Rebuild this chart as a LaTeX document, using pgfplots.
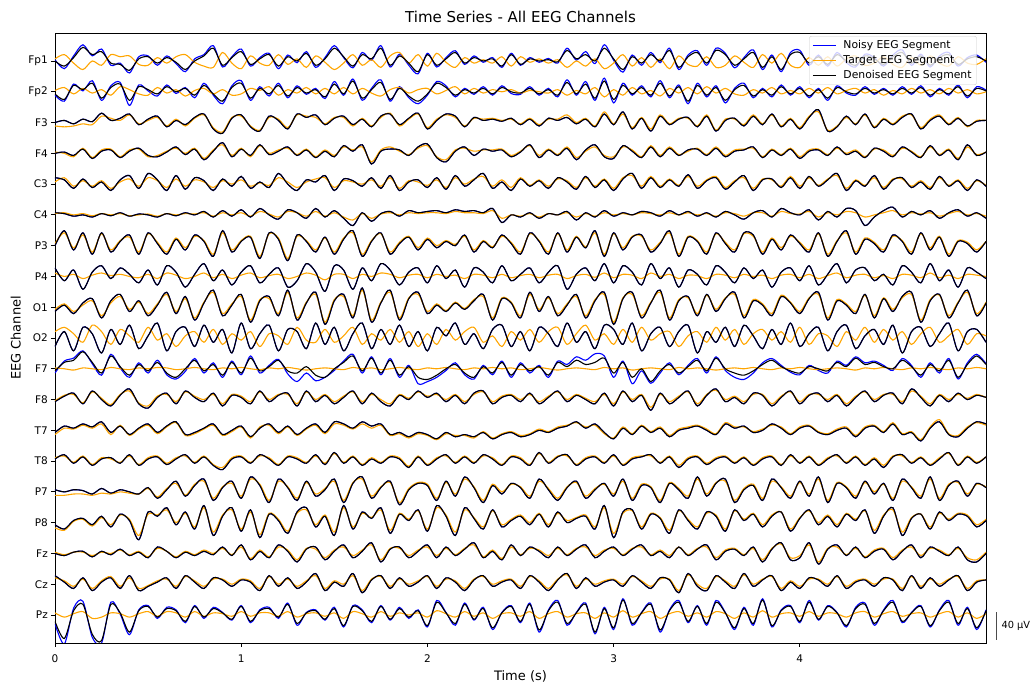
\documentclass[border=0pt]{standalone}
\usepackage{fontspec}
\setmainfont{DejaVu Sans}
\usepackage{pgfplots}
\usepackage{pgfplotstable}
\pgfplotsset{compat=1.18}
\definecolor{nzc}{RGB}{0,0,255}
\definecolor{tgc}{RGB}{255,165,0}
\newcommand\D[2]{\pgfplotstableread[row sep=\\]{y\\#2}#1%
  \pgfplotstablecreatecol[expr={\pgfplotstablerow*0.05}]{t}#1}
% ---- Fp1 ----
\D\dFpa{0\\-12\\8\\32\\15\\22\\-5\\-8\\-22\\5\\
10\\-5\\8\\-3\\-20\\0\\12\\30\\-10\\8\\
22\\-8\\5\\15\\-12\\10\\0\\18\\-10\\5\\
30\\10\\-12\\15\\5\\30\\-10\\12\\-5\\-25\\
15\\-10\\5\\20\\-5\\8\\0\\5\\-12\\15\\
-8\\5\\0\\3\\-2\\25\\5\\15\\0\\30\\
5\\-20\\10\\-5\\15\\0\\25\\-15\\10\\20\\
-5\\25\\15\\-10\\5\\20\\-15\\10\\-20\\15\\
20\\-5\\10\\-8\\15\\0\\-10\\12\\5\\-8\\
10\\20\\-5\\12\\-10\\8\\15\\-8\\5\\10\\
0\\}
\D\gFpa{5\\15\\-5\\-20\\0\\-10\\15\\10\\12\\-8\\
-10\\8\\-5\\10\\15\\-3\\-12\\-15\\20\\-5\\
-18\\12\\-5\\-10\\15\\-8\\5\\-15\\12\\-3\\
-20\\-5\\15\\-10\\3\\-15\\12\\20\\-5\\15\\
-12\\18\\-3\\-15\\8\\-5\\3\\-5\\10\\-12\\
10\\-3\\5\\-5\\3\\-15\\0\\-12\\5\\-18\\
-5\\15\\-12\\8\\-15\\5\\-18\\12\\-8\\-12\\
10\\-15\\-10\\12\\-3\\-15\\15\\-5\\18\\-10\\
-15\\8\\-10\\10\\-12\\5\\12\\-10\\-5\\10\\
-8\\-15\\8\\-10\\12\\-5\\-12\\10\\-5\\-8\\
5\\}
\D\nFpa{3\\-18\\12\\38\\12\\28\\-10\\-5\\-28\\10\\
12\\-10\\12\\-6\\-25\\5\\15\\36\\-14\\10\\
28\\-12\\8\\18\\-18\\14\\-4\\22\\-15\\8\\
36\\8\\-16\\20\\2\\36\\-14\\16\\-10\\-30\\
18\\-14\\8\\24\\-8\\12\\-3\\8\\-15\\18\\
-10\\8\\-3\\6\\-5\\30\\2\\22\\-6\\38\\
2\\-26\\14\\-10\\20\\-4\\30\\-20\\14\\24\\
-10\\30\\18\\-16\\8\\26\\-20\\14\\-25\\20\\
25\\-10\\14\\-12\\20\\-4\\-14\\16\\8\\-12\\
14\\26\\-10\\16\\-14\\12\\20\\-12\\8\\14\\
-3\\}
% ---- Fp2 ----
\D\dFpb{-5\\-18\\15\\5\\20\\-15\\10\\18\\-20\\12\\
5\\-5\\12\\0\\8\\-8\\15\\-5\\-22\\10\\
20\\-15\\8\\-5\\15\\-10\\10\\-3\\5\\-12\\
18\\-5\\25\\-15\\5\\22\\-18\\8\\-10\\-22\\
-5\\20\\10\\-8\\5\\-3\\8\\-5\\10\\0\\
-3\\8\\-5\\5\\-8\\22\\-5\\18\\-15\\25\\
-18\\15\\-5\\10\\-8\\20\\-10\\12\\-22\\15\\
-8\\10\\-20\\5\\15\\-10\\5\\-8\\12\\-5\\
8\\-10\\5\\-15\\10\\0\\-5\\8\\-3\\5\\
-5\\8\\-3\\10\\-8\\5\\-5\\12\\-10\\8\\
2\\}
\D\gFpb{3\\10\\-5\\8\\-3\\5\\-8\\12\\5\\-5\\
-8\\10\\-3\\5\\-10\\3\\8\\-5\\5\\-8\\
-5\\8\\3\\12\\-8\\5\\-3\\10\\-5\\8\\
-5\\10\\-5\\8\\-3\\-10\\5\\10\\-3\\5\\
8\\-5\\3\\12\\-5\\8\\-3\\5\\0\\5\\
-3\\3\\0\\-3\\5\\-8\\3\\-5\\10\\-12\\
5\\-8\\10\\-5\\3\\-10\\8\\-3\\10\\-5\\
12\\-3\\8\\-5\\-8\\5\\-3\\10\\-5\\3\\
-5\\8\\-3\\10\\-5\\3\\8\\-3\\5\\-8\\
3\\-5\\8\\-3\\5\\-5\\8\\-3\\5\\-5\\
0\\}
\D\nFpb{-8\\-22\\18\\2\\26\\-20\\14\\22\\-32\\16\\
2\\-10\\16\\-4\\10\\-14\\20\\-8\\-28\\14\\
26\\-20\\12\\-10\\20\\-14\\14\\-6\\8\\-16\\
24\\-8\\30\\-20\\8\\28\\-22\\12\\-14\\-28\\
-8\\24\\14\\-12\\8\\-6\\12\\-8\\14\\-4\\
-6\\12\\-8\\8\\-12\\28\\-8\\24\\-20\\32\\
-26\\20\\-8\\14\\-12\\26\\-14\\16\\-28\\20\\
-12\\14\\-26\\8\\20\\-14\\8\\-12\\16\\-8\\
12\\-14\\8\\-20\\14\\-3\\-8\\12\\-6\\8\\
-8\\12\\-6\\14\\-12\\8\\-8\\16\\-14\\12\\
4\\}
% ---- F3 ----
\D\dFc{0\\5\\-3\\8\\2\\22\\5\\10\\20\\-5\\
8\\15\\-10\\5\\-5\\12\\20\\-15\\-25\\10\\
18\\-10\\-20\\15\\5\\-15\\20\\12\\18\\-5\\
10\\15\\-5\\8\\-10\\15\\20\\-5\\10\\22\\
-15\\5\\20\\15\\-10\\12\\5\\8\\3\\10\\
-5\\8\\-8\\10\\5\\12\\-3\\8\\-10\\20\\
-5\\25\\-15\\10\\-20\\15\\-5\\8\\12\\-10\\
15\\-20\\5\\10\\-8\\15\\-5\\20\\-10\\8\\
-15\\12\\30\\-20\\-10\\15\\-5\\20\\-12\\8\\
-5\\12\\20\\-15\\5\\15\\-5\\10\\-8\\3\\
5\\}
\D\gFc{-8\\-10\\-8\\-3\\-5\\15\\10\\5\\18\\-3\\
5\\12\\-8\\8\\-8\\10\\18\\-12\\-22\\12\\
15\\-8\\-18\\12\\8\\-12\\18\\15\\12\\-3\\
12\\12\\-8\\10\\-8\\12\\22\\-8\\8\\20\\
-12\\8\\18\\12\\-8\\10\\8\\10\\5\\8\\
-3\\10\\-5\\8\\8\\18\\0\\10\\-8\\25\\
-3\\20\\-12\\12\\-15\\18\\-3\\10\\10\\-8\\
18\\-18\\8\\8\\-5\\18\\-3\\18\\-8\\10\\
-12\\15\\25\\-18\\-8\\12\\-3\\18\\-10\\10\\
-3\\15\\18\\-12\\8\\18\\-3\\12\\-10\\5\\
5\\}
% ---- F4 ----
\D\dFd{0\\3\\-5\\10\\-12\\5\\8\\-10\\5\\12\\
-5\\-8\\3\\15\\-3\\10\\-15\\5\\25\\-8\\
10\\-5\\20\\-3\\5\\15\\-5\\8\\-10\\5\\
-8\\18\\5\\20\\-25\\5\\10\\8\\-5\\15\\
22\\-10\\-20\\5\\15\\-5\\10\\5\\8\\-8\\
3\\20\\-10\\8\\-5\\12\\-15\\8\\20\\-8\\
-12\\18\\5\\-10\\15\\-8\\12\\-5\\8\\10\\
-5\\12\\-8\\5\\8\\15\\-10\\8\\-5\\10\\
-12\\5\\8\\-5\\15\\-3\\5\\-10\\12\\5\\
-8\\15\\3\\-10\\18\\-5\\8\\-15\\20\\-5\\
3\\}
\D\gFd{3\\0\\-8\\12\\-10\\8\\10\\-8\\8\\10\\
-8\\-5\\5\\12\\0\\12\\-12\\8\\20\\-5\\
12\\-8\\18\\0\\8\\12\\-3\\10\\-8\\8\\
-5\\15\\8\\15\\-20\\8\\15\\5\\-3\\12\\
18\\-8\\-15\\8\\12\\5\\8\\8\\10\\-5\\
5\\18\\-5\\10\\-3\\15\\-10\\5\\15\\-5\\
-8\\15\\8\\-8\\18\\-5\\15\\-3\\5\\12\\
-3\\15\\-5\\8\\10\\12\\-8\\10\\-3\\12\\
-8\\8\\10\\-3\\12\\0\\8\\-8\\10\\8\\
-5\\12\\5\\-8\\15\\-3\\10\\-12\\15\\-3\\
3\\}
% ---- C3 ----
\D\dCc{15\\10\\-10\\12\\-8\\5\\-15\\10\\20\\-10\\
25\\10\\-15\\20\\-12\\15\\8\\-15\\12\\-5\\
18\\-10\\5\\-8\\25\\0\\-15\\10\\5\\20\\
-15\\12\\8\\-5\\15\\-10\\20\\-15\\5\\10\\
-8\\15\\-12\\20\\-5\\10\\25\\-10\\5\\-15\\
12\\-5\\8\\-10\\15\\5\\-12\\18\\-8\\10\\
-15\\12\\25\\-10\\15\\-8\\10\\-5\\22\\-10\\
8\\15\\-12\\5\\20\\-15\\10\\12\\-8\\15\\
-10\\18\\-5\\10\\25\\-15\\8\\-5\\20\\-12\\
10\\15\\-8\\5\\-12\\18\\-5\\8\\-15\\10\\
-5\\}
\D\gCc{5\\15\\-5\\8\\-5\\8\\-10\\5\\12\\-5\\
15\\8\\-8\\12\\-5\\10\\5\\-8\\8\\0\\
10\\-5\\3\\-3\\15\\5\\-8\\5\\12\\15\\
-8\\8\\5\\0\\10\\-5\\15\\-10\\8\\5\\
-3\\10\\-8\\15\\0\\12\\18\\-5\\10\\-8\\
15\\-3\\10\\-5\\12\\8\\-8\\15\\-5\\12\\
-10\\15\\20\\-5\\18\\-5\\12\\-3\\18\\-5\\
10\\18\\-8\\8\\15\\-10\\12\\10\\-5\\18\\
-5\\15\\-3\\12\\20\\-10\\10\\-3\\15\\-8\\
12\\12\\-5\\8\\-8\\15\\-3\\10\\-10\\8\\
-3\\}
% ---- C4 ----
\D\dCd{5\\3\\-3\\0\\-5\\3\\-2\\5\\-3\\2\\
0\\-5\\3\\-2\\5\\0\\8\\-5\\10\\-3\\
12\\-5\\15\\0\\-10\\12\\5\\-8\\15\\-5\\
10\\-8\\-25\\5\\-15\\3\\8\\-3\\10\\5\\
8\\10\\5\\12\\8\\10\\5\\15\\-18\\0\\
-5\\5\\-8\\3\\0\\8\\-12\\5\\-5\\10\\
-3\\5\\0\\8\\5\\-3\\10\\0\\8\\-3\\
5\\-5\\8\\0\\-10\\5\\10\\-5\\15\\5\\
0\\12\\-12\\8\\-5\\15\\10\\-25\\-5\\10\\
18\\-5\\8\\0\\10\\-8\\5\\12\\-3\\5\\
-8\\}
\D\gCd{3\\5\\0\\3\\-2\\3\\0\\3\\-2\\0\\
2\\-3\\3\\0\\3\\2\\5\\-3\\5\\0\\
5\\-3\\8\\2\\-5\\8\\5\\-3\\8\\-3\\
5\\-5\\-12\\3\\-8\\2\\5\\0\\5\\3\\
5\\5\\3\\8\\5\\5\\3\\10\\-8\\0\\
-3\\3\\-5\\3\\0\\5\\-5\\3\\-3\\5\\
0\\3\\0\\5\\3\\0\\5\\0\\5\\0\\
3\\-3\\5\\3\\-3\\5\\5\\-3\\8\\3\\
2\\8\\-5\\5\\0\\8\\5\\-5\\0\\5\\
10\\0\\5\\2\\5\\-3\\3\\8\\0\\3\\
-3\\}
% ---- P3 ----
\D\dPc{0\\35\\-10\\30\\-20\\30\\-15\\10\\25\\-20\\
30\\5\\-20\\15\\-10\\25\\10\\-25\\35\\-15\\
10\\20\\-30\\30\\15\\-35\\25\\10\\-15\\20\\
-20\\15\\35\\-25\\10\\30\\-20\\5\\20\\-10\\
15\\-5\\10\\0\\25\\-15\\10\\-5\\25\\5\\
-20\\30\\10\\-20\\30\\-15\\20\\-5\\35\\-25\\
30\\-10\\20\\25\\-15\\5\\35\\-25\\20\\10\\
-20\\30\\5\\-15\\30\\25\\-20\\15\\-10\\25\\
5\\-15\\30\\-25\\10\\35\\-20\\15\\5\\-15\\
25\\10\\-20\\30\\-10\\20\\-25\\10\\5\\-15\\
10\\}
\D\gPc{5\\30\\-5\\25\\-15\\28\\-10\\12\\20\\-15\\
28\\8\\-15\\18\\-5\\22\\12\\-20\\30\\-10\\
12\\22\\-25\\28\\18\\-30\\22\\12\\-10\\18\\
-15\\18\\30\\-20\\12\\28\\-15\\8\\22\\-5\\
18\\0\\12\\3\\22\\-10\\12\\-3\\22\\8\\
-15\\28\\12\\-15\\28\\-10\\22\\-3\\30\\-20\\
28\\-5\\22\\22\\-10\\8\\30\\-20\\22\\12\\
-15\\28\\8\\-10\\28\\22\\-15\\18\\-5\\22\\
8\\-10\\28\\-20\\12\\30\\-15\\18\\8\\-10\\
22\\12\\-15\\28\\-5\\22\\-20\\12\\8\\-10\\
10\\}
% ---- P4 ----
\D\dPd{20\\-10\\15\\-30\\10\\25\\-5\\20\\5\\-15\\
15\\-20\\25\\10\\-25\\5\\30\\-10\\15\\-20\\
10\\25\\-15\\5\\20\\-25\\-10\\30\\10\\-35\\
25\\15\\-30\\20\\-10\\30\\15\\-20\\10\\20\\
-15\\25\\-5\\15\\-25\\20\\10\\-15\\25\\-10\\
5\\20\\-15\\10\\25\\-30\\5\\20\\-10\\30\\
-15\\25\\10\\-20\\30\\-5\\20\\-25\\15\\5\\
-20\\25\\10\\-15\\20\\-5\\15\\-25\\10\\20\\
-10\\25\\-20\\5\\30\\-15\\15\\20\\-10\\5\\
-20\\25\\10\\-15\\30\\-10\\15\\-25\\20\\10\\
-5\\}
\D\gPd{8\\0\\5\\-5\\3\\8\\2\\5\\0\\-3\\
5\\-5\\8\\3\\-5\\0\\8\\-3\\5\\-5\\
3\\8\\-3\\2\\5\\-5\\0\\8\\3\\-8\\
5\\5\\-5\\5\\0\\8\\5\\-3\\3\\5\\
-3\\5\\0\\3\\-5\\5\\3\\-3\\5\\-3\\
2\\5\\-3\\3\\5\\-5\\2\\5\\-2\\8\\
-3\\5\\3\\-5\\8\\0\\5\\-5\\3\\2\\
-5\\5\\3\\-3\\5\\0\\3\\-5\\3\\5\\
-3\\5\\-5\\2\\8\\-3\\3\\5\\-3\\2\\
-5\\5\\3\\-3\\8\\-3\\3\\-5\\5\\3\\
0\\}
% ---- O1 ----
\D\dOa{-10\\5\\-15\\10\\20\\-25\\15\\30\\-10\\15\\
-20\\5\\35\\-15\\25\\-30\\10\\40\\-20\\5\\
30\\-35\\15\\25\\-20\\40\\-30\\10\\35\\-40\\
15\\30\\-25\\45\\-35\\10\\40\\-30\\20\\35\\
-15\\5\\-10\\10\\-5\\15\\30\\-30\\20\\10\\
-25\\35\\-10\\25\\-20\\5\\30\\-25\\15\\35\\
-40\\20\\35\\-25\\10\\40\\-30\\15\\25\\-20\\
30\\-10\\20\\35\\-25\\15\\5\\-20\\25\\10\\
-15\\20\\35\\-30\\15\\5\\-15\\30\\-25\\20\\
-10\\25\\35\\-35\\15\\30\\-25\\10\\40\\-20\\
10\\}
\D\gOa{-5\\8\\-10\\5\\15\\-20\\10\\25\\-5\\12\\
-15\\8\\30\\-10\\20\\-25\\12\\35\\-15\\8\\
25\\-30\\18\\20\\-15\\35\\-25\\12\\30\\-35\\
18\\25\\-20\\40\\-30\\12\\35\\-25\\22\\30\\
-10\\8\\-8\\12\\-3\\18\\25\\-25\\22\\12\\
-20\\30\\-5\\22\\-15\\8\\25\\-20\\18\\30\\
-35\\22\\30\\-20\\12\\35\\-25\\18\\22\\-15\\
28\\-5\\22\\30\\-20\\18\\8\\-15\\28\\12\\
-10\\22\\30\\-25\\18\\8\\-10\\28\\-20\\22\\
-5\\22\\30\\-30\\18\\28\\-20\\12\\35\\-15\\
12\\}
% ---- O2 ----
\D\dOb{-20\\15\\-30\\25\\10\\-35\\20\\-15\\30\\-25\\
5\\35\\-30\\15\\25\\-20\\30\\-10\\20\\-35\\
35\\-25\\10\\30\\-30\\20\\15\\-25\\35\\-15\\
25\\-30\\10\\35\\-25\\20\\-15\\30\\-20\\15\\
-30\\25\\5\\35\\-15\\10\\-25\\20\\30\\-20\\
15\\-30\\25\\10\\-20\\35\\-10\\15\\-25\\30\\
20\\-15\\35\\-30\\10\\25\\-20\\15\\30\\-35\\
15\\-10\\25\\-20\\30\\5\\-25\\20\\-15\\35\\
-20\\10\\25\\-30\\15\\30\\-25\\5\\20\\-15\\
30\\-35\\15\\25\\-20\\10\\35\\-30\\15\\20\\
-10\\}
\D\gOb{15\\25\\10\\-10\\30\\15\\-15\\20\\5\\-10\\
25\\-5\\10\\-20\\5\\15\\-10\\20\\-15\\10\\
-5\\15\\-20\\10\\5\\-15\\25\\-5\\-10\\20\\
-10\\5\\25\\-15\\10\\-5\\20\\-10\\15\\-20\\
10\\-15\\20\\-5\\15\\25\\-10\\5\\-20\\15\\
-5\\20\\-10\\15\\25\\-15\\10\\30\\-5\\10\\
-15\\20\\-10\\25\\-5\\10\\15\\-20\\5\\15\\
-10\\25\\-5\\20\\-15\\10\\20\\-5\\15\\-10\\
25\\-15\\10\\5\\-20\\15\\-5\\25\\-10\\20\\
-5\\15\\-15\\10\\25\\-10\\5\\20\\-15\\10\\
5\\}
% ---- F7 ----
\D\dFg{-5\\15\\20\\40\\15\\-10\\30\\5\\-15\\10\\
-5\\15\\-10\\-20\\0\\20\\-5\\10\\-15\\15\\
-10\\25\\-5\\5\\20\\-5\\-10\\5\\-15\\-20\\
0\\15\\30\\-5\\25\\-10\\20\\-15\\5\\-20\\
-25\\-15\\0\\10\\-10\\-20\\5\\-10\\15\\-15\\
10\\-5\\5\\-15\\15\\5\\20\\10\\15\\25\\
-10\\15\\-20\\0\\-30\\-5\\10\\-10\\5\\20\\
-5\\25\\0\\-10\\-15\\-5\\10\\20\\5\\-5\\
-10\\5\\0\\-5\\15\\5\\25\\10\\15\\5\\
0\\20\\5\\-15\\10\\-5\\20\\-20\\10\\30\\
10\\}
\D\gFg{2\\0\\-3\\2\\0\\-2\\3\\0\\-2\\2\\
0\\3\\2\\-2\\0\\3\\0\\-2\\2\\0\\
3\\0\\-2\\2\\0\\3\\0\\-3\\0\\2\\
0\\-2\\3\\0\\2\\-2\\0\\3\\0\\-2\\
2\\0\\3\\0\\-2\\2\\0\\3\\0\\2\\
-2\\0\\3\\0\\-3\\0\\2\\0\\-2\\3\\
0\\2\\-3\\0\\2\\0\\-2\\3\\0\\2\\
0\\-3\\0\\2\\0\\3\\0\\-2\\2\\0\\
3\\0\\-2\\0\\2\\0\\-3\\2\\0\\3\\
0\\-2\\2\\0\\3\\0\\-2\\2\\0\\3\\
0\\}
\D\nFg{-10\\18\\25\\42\\12\\-15\\34\\2\\-20\\14\\
-10\\20\\-14\\-24\\-6\\24\\-10\\14\\-20\\18\\
-14\\30\\-10\\8\\22\\-12\\-30\\-10\\-28\\-20\\
-4\\18\\34\\-10\\28\\-14\\24\\-20\\8\\-35\\
-30\\-20\\-4\\14\\-14\\-24\\8\\-14\\18\\-20\\
14\\-10\\8\\-20\\18\\10\\28\\20\\35\\30\\
-20\\18\\-35\\-5\\-34\\-10\\14\\-14\\8\\24\\
-10\\28\\-4\\-20\\-25\\-10\\14\\24\\8\\-8\\
-14\\8\\-4\\-10\\18\\8\\28\\14\\18\\8\\
-4\\24\\8\\-20\\14\\-10\\24\\-24\\14\\34\\
12\\}
% ---- F8 ----
\D\dFh{-5\\8\\15\\-10\\20\\0\\-15\\10\\25\\-10\\
-20\\5\\15\\-10\\20\\5\\-5\\15\\-15\\10\\
5\\-10\\20\\-5\\10\\15\\-15\\20\\-5\\10\\
-10\\5\\20\\-10\\15\\-5\\-15\\10\\0\\20\\
5\\15\\-5\\10\\-10\\15\\20\\-10\\5\\10\\
-5\\15\\-10\\5\\20\\-5\\10\\0\\-10\\15\\
-15\\20\\-5\\10\\-25\\15\\-10\\5\\20\\-15\\
10\\25\\-5\\5\\-10\\15\\10\\-15\\5\\20\\
-10\\10\\15\\-5\\10\\-15\\5\\20\\-5\\10\\
15\\-10\\25\\5\\-15\\10\\-5\\15\\0\\10\\
5\\}
\D\gFh{-3\\10\\12\\-8\\18\\3\\-12\\12\\20\\-8\\
-15\\8\\12\\-5\\18\\8\\0\\12\\-10\\12\\
8\\-5\\18\\0\\12\\12\\-10\\18\\0\\12\\
-5\\8\\18\\-5\\12\\0\\-10\\12\\3\\18\\
8\\12\\0\\12\\-5\\12\\18\\-5\\8\\12\\
0\\12\\-5\\8\\18\\0\\12\\3\\-5\\12\\
-10\\18\\0\\12\\-18\\12\\-5\\8\\18\\-10\\
12\\22\\0\\8\\-5\\12\\12\\-10\\8\\18\\
-5\\12\\12\\0\\12\\-10\\8\\18\\0\\12\\
12\\-5\\20\\8\\-10\\12\\0\\12\\3\\12\\
5\\}
% ---- T7 ----
\D\dTg{-5\\10\\5\\15\\8\\20\\-5\\10\\-10\\5\\
15\\-5\\10\\20\\-10\\-5\\5\\15\\-10\\0\\
10\\-15\\5\\15\\-5\\10\\-10\\5\\15\\-5\\
20\\15\\5\\20\\10\\15\\-10\\-5\\-15\\-5\\
-10\\-20\\-5\\-15\\-10\\-15\\-5\\-20\\-10\\-5\\
-15\\-10\\0\\-5\\5\\10\\20\\5\\15\\-5\\
-20\\5\\-10\\10\\-5\\5\\-15\\0\\5\\10\\
0\\-10\\15\\5\\10\\-5\\0\\15\\5\\-10\\
5\\10\\-5\\-10\\0\\5\\-15\\5\\10\\-5\\
15\\-10\\-5\\-25\\5\\20\\-10\\-15\\5\\20\\
15\\}
\D\gTg{-10\\5\\3\\12\\5\\15\\-10\\12\\-12\\3\\
12\\-8\\8\\18\\-12\\-8\\3\\12\\-12\\-3\\
8\\-18\\8\\12\\-8\\8\\-12\\3\\12\\-8\\
15\\12\\3\\15\\5\\12\\-12\\-8\\-18\\-8\\
-12\\-22\\-8\\-12\\-12\\-18\\-3\\-18\\-8\\-3\\
-12\\-8\\3\\-3\\8\\12\\18\\8\\12\\-8\\
-18\\8\\-8\\12\\-3\\8\\-12\\3\\8\\12\\
3\\-8\\18\\8\\8\\-3\\3\\12\\8\\-8\\
8\\12\\-3\\-8\\3\\8\\-12\\8\\12\\-3\\
18\\-8\\-3\\-22\\8\\25\\-8\\-12\\8\\18\\
12\\}
% ---- T8 ----
\D\dTh{5\\15\\-5\\10\\-10\\5\\8\\-5\\15\\-10\\
5\\10\\-8\\5\\15\\-5\\10\\-10\\-20\\5\\
10\\-5\\15\\5\\-10\\10\\5\\-5\\15\\-8\\
20\\-5\\10\\-10\\5\\-5\\10\\5\\-15\\10\\
-10\\5\\15\\-5\\10\\-5\\15\\5\\-10\\10\\
5\\-10\\20\\-5\\10\\15\\-10\\5\\10\\-5\\
15\\-10\\5\\10\\15\\-5\\10\\-15\\5\\10\\
-8\\5\\10\\-5\\8\\-10\\5\\10\\-10\\15\\
-5\\10\\-10\\5\\15\\-5\\10\\-10\\5\\-15\\
10\\15\\-5\\8\\-10\\5\\20\\-10\\10\\-5\\
10\\}
\D\gTh{8\\12\\-3\\12\\-8\\8\\5\\-3\\12\\-8\\
8\\12\\-5\\8\\12\\-3\\12\\-8\\-15\\8\\
12\\-3\\12\\8\\-8\\12\\8\\-3\\12\\-5\\
18\\-3\\12\\-8\\8\\-3\\12\\8\\-12\\12\\
-8\\8\\12\\-3\\12\\-3\\12\\8\\-8\\12\\
8\\-8\\18\\-3\\12\\12\\-8\\8\\12\\-3\\
12\\-8\\8\\12\\12\\-3\\12\\-10\\8\\12\\
-5\\8\\12\\-3\\10\\-8\\8\\12\\-8\\12\\
-3\\12\\-8\\8\\12\\-3\\12\\-8\\8\\-10\\
12\\12\\-3\\10\\-8\\8\\18\\-8\\12\\-3\\
10\\}
% ---- P7 ----
\D\dPg{5\\0\\5\\3\\-5\\8\\-3\\5\\0\\-5\\
10\\-15\\5\\25\\-10\\15\\30\\-20\\10\\25\\
-15\\35\\15\\-25\\30\\10\\-20\\25\\-10\\5\\
30\\-25\\20\\35\\-15\\10\\25\\-30\\5\\20\\
15\\-20\\25\\-10\\35\\10\\-25\\15\\-5\\20\\
10\\-15\\30\\5\\-20\\10\\25\\-15\\5\\20\\
-10\\30\\-20\\15\\10\\-25\\20\\5\\-15\\35\\
-10\\20\\30\\-25\\5\\15\\-20\\30\\10\\-15\\
25\\-10\\35\\-25\\20\\10\\-15\\25\\-5\\20\\
-20\\30\\10\\-15\\35\\-20\\15\\25\\-10\\20\\
10\\}
\D\gPg{-8\\-8\\-5\\-5\\-8\\-3\\-5\\0\\-3\\-5\\
8\\-12\\8\\20\\-8\\18\\25\\-15\\12\\20\\
-10\\30\\18\\-20\\25\\12\\-15\\22\\-5\\8\\
25\\-20\\22\\30\\-10\\12\\22\\-25\\8\\22\\
18\\-15\\22\\-5\\30\\12\\-20\\18\\0\\18\\
12\\-10\\25\\8\\-15\\12\\22\\-10\\8\\18\\
-5\\25\\-15\\18\\12\\-20\\22\\8\\-10\\30\\
-5\\22\\25\\-20\\8\\18\\-15\\25\\12\\-10\\
22\\-5\\30\\-20\\22\\12\\-10\\22\\0\\18\\
-15\\25\\12\\-10\\30\\-15\\18\\22\\-5\\18\\
12\\}
% ---- P8 ----
\D\dPh{-5\\-15\\5\\10\\-5\\15\\-10\\20\\5\\-40\\
25\\15\\35\\-5\\25\\-15\\40\\-30\\15\\35\\
-20\\30\\-35\\20\\5\\-25\\25\\35\\-10\\15\\
-30\\40\\-15\\25\\10\\35\\-25\\20\\5\\30\\
-20\\40\\15\\-30\\35\\10\\-15\\30\\-10\\5\\
15\\-5\\20\\-10\\25\\0\\10\\15\\-15\\40\\
-35\\25\\30\\-15\\20\\10\\-25\\30\\5\\-15\\
25\\15\\-20\\30\\5\\20\\-10\\15\\25\\-20\\
10\\30\\-5\\15\\-10\\20\\5\\30\\-25\\15\\
35\\-30\\10\\20\\-15\\25\\5\\20\\15\\-10\\
5\\}
\D\gPh{-12\\-18\\3\\8\\-8\\12\\-5\\18\\8\\-30\\
20\\18\\30\\0\\22\\-10\\35\\-22\\18\\30\\
-15\\25\\-28\\22\\8\\-20\\22\\30\\-5\\18\\
-22\\35\\-10\\22\\12\\30\\-18\\22\\8\\28\\
-15\\35\\18\\-22\\30\\12\\-10\\28\\-5\\8\\
18\\0\\22\\-5\\22\\5\\12\\18\\-10\\35\\
-25\\22\\28\\-10\\22\\12\\-18\\28\\8\\-10\\
22\\18\\-15\\28\\8\\22\\-5\\18\\25\\-15\\
12\\28\\0\\18\\-5\\22\\8\\28\\-18\\18\\
30\\-22\\12\\20\\-10\\22\\8\\22\\18\\-5\\
8\\}
% ---- Fz ----
\D\dFz{0\\-5\\3\\5\\-8\\5\\-3\\10\\-5\\3\\
-10\\15\\5\\-10\\3\\-5\\5\\-3\\15\\-5\\
20\\-15\\5\\-10\\20\\5\\-20\\10\\15\\-15\\
5\\20\\-10\\5\\25\\-20\\10\\15\\-10\\5\\
20\\-10\\15\\-5\\10\\25\\-10\\5\\-15\\20\\
-5\\15\\5\\-10\\15\\-5\\10\\20\\-10\\5\\
15\\-5\\10\\20\\-5\\5\\-10\\15\\-5\\10\\
20\\-15\\5\\10\\-5\\15\\-20\\10\\25\\-15\\
-10\\25\\-25\\10\\20\\-5\\15\\-10\\5\\10\\
-15\\5\\20\\-10\\15\\5\\-5\\15\\-15\\-20\\
0\\}
\D\gFz{3\\-3\\3\\3\\-5\\3\\0\\8\\-3\\5\\
-8\\12\\5\\-8\\5\\-3\\8\\0\\12\\-3\\
15\\-12\\8\\-8\\15\\8\\-15\\12\\10\\-10\\
8\\15\\-5\\8\\20\\-15\\12\\12\\-5\\8\\
15\\-5\\12\\-3\\12\\20\\-8\\8\\-12\\15\\
-3\\12\\8\\-5\\12\\-3\\12\\15\\-5\\8\\
12\\-3\\12\\15\\-3\\8\\-5\\15\\-3\\12\\
15\\-10\\8\\12\\-3\\12\\-15\\12\\22\\-10\\
-5\\20\\-20\\12\\15\\-3\\12\\-8\\8\\12\\
-10\\8\\15\\-5\\12\\8\\-3\\12\\-10\\-15\\
3\\}
% ---- Cz ----
\D\dCz{20\\5\\-10\\15\\-15\\5\\15\\-10\\20\\-15\\
-5\\5\\15\\-10\\20\\5\\-10\\15\\10\\-5\\
10\\5\\-15\\20\\-5\\15\\-10\\5\\25\\-15\\
5\\-5\\25\\-20\\10\\20\\-10\\15\\-5\\5\\
20\\-10\\15\\5\\-15\\10\\20\\-5\\5\\10\\
-10\\20\\5\\-15\\10\\25\\-10\\15\\-5\\5\\
10\\-5\\20\\5\\-10\\15\\10\\-20\\25\\-5\\
-15\\20\\5\\-10\\25\\-5\\10\\20\\-15\\5\\
-10\\15\\10\\-5\\20\\-10\\5\\10\\-5\\15\\
10\\-15\\20\\-10\\15\\-5\\10\\20\\-15\\5\\
10\\}
\D\gCz{15\\8\\-5\\12\\-10\\8\\18\\-5\\15\\-10\\
-3\\8\\12\\-5\\18\\8\\-5\\12\\12\\0\\
12\\8\\-10\\18\\0\\12\\-5\\8\\20\\-10\\
8\\0\\20\\-15\\12\\18\\-5\\12\\0\\8\\
18\\-5\\12\\8\\-10\\12\\18\\0\\8\\12\\
-5\\18\\8\\-10\\12\\22\\-5\\12\\0\\8\\
12\\0\\18\\8\\-5\\12\\12\\-15\\22\\0\\
-10\\18\\8\\-5\\22\\0\\12\\18\\-10\\8\\
-5\\12\\12\\0\\18\\-5\\8\\12\\0\\12\\
12\\-10\\18\\-5\\12\\0\\12\\18\\-10\\8\\
10\\}
% ---- Pz ----
\D\dPz{-15\\-55\\10\\25\\-45\\-60\\25\\5\\-40\\10\\
20\\-5\\15\\10\\-15\\20\\-5\\15\\5\\-10\\
20\\-15\\10\\15\\-5\\25\\-20\\5\\10\\-10\\
15\\-25\\20\\10\\-15\\20\\-10\\15\\-5\\10\\
-25\\30\\5\\-20\\25\\-10\\15\\-30\\5\\20\\
-15\\25\\-35\\10\\30\\-20\\5\\25\\-40\\15\\
-30\\35\\-20\\5\\25\\-35\\10\\30\\-15\\20\\
-20\\30\\5\\-30\\15\\-20\\35\\-25\\10\\20\\
-15\\30\\-10\\20\\5\\-25\\15\\25\\-20\\10\\
30\\-15\\5\\20\\-25\\10\\30\\-20\\15\\-30\\
10\\}
\D\gPz{5\\-5\\3\\8\\-8\\-5\\5\\3\\-5\\3\\
8\\-3\\8\\5\\-5\\8\\-3\\5\\3\\-3\\
8\\-3\\5\\5\\-3\\8\\-5\\3\\5\\-3\\
5\\-8\\8\\3\\-5\\8\\-3\\5\\0\\5\\
-5\\10\\3\\-5\\8\\-3\\5\\-8\\3\\5\\
-3\\8\\-8\\3\\8\\-5\\3\\5\\-8\\5\\
-5\\10\\-5\\3\\8\\-8\\3\\8\\-3\\5\\
-5\\8\\3\\-8\\5\\-5\\10\\-5\\3\\5\\
-3\\8\\-3\\5\\3\\-5\\5\\8\\-5\\3\\
8\\-3\\3\\5\\-5\\3\\8\\-5\\5\\-8\\
3\\}
\D\nPz{-20\\-68\\16\\32\\-52\\-66\\30\\2\\-46\\12\\
22\\-8\\18\\12\\-18\\22\\-8\\18\\6\\-12\\
22\\-18\\12\\18\\-8\\28\\-24\\6\\12\\-12\\
18\\-28\\22\\12\\-18\\22\\-12\\18\\-8\\12\\
-28\\34\\6\\-24\\28\\-12\\18\\-34\\6\\22\\
-18\\28\\-40\\12\\34\\-24\\6\\28\\-44\\18\\
-34\\38\\-24\\6\\28\\-40\\12\\34\\-18\\22\\
-24\\34\\6\\-34\\18\\-24\\38\\-28\\12\\22\\
-18\\34\\-12\\22\\6\\-28\\18\\28\\-24\\12\\
34\\-18\\6\\22\\-28\\12\\34\\-24\\18\\-34\\
12\\}
\pgfplotsset{
  nz/.style={color=nzc, line width=1.1pt, smooth},
  tg/.style={color=tgc, line width=1.1pt, smooth},
  dn/.style={color=black, line width=1.1pt, smooth},
}
\newcommand\ch[4]{%
  \addplot[forget plot, nz] table[x=t, y=y, y expr=\thisrow{y}/72+#4]{#1};
  \addplot[forget plot, tg] table[x=t, y=y, y expr=\thisrow{y}/72+#4]{#2};
  \addplot[forget plot, dn] table[x=t, y=y, y expr=\thisrow{y}/72+#4]{#3};
}
\begin{document}
\begin{tikzpicture}
\useasboundingbox (-55pt,-39pt) rectangle (978pt,643pt);
\begin{axis}[
  anchor=south west, at={(0pt,0pt)},
  width=931pt, height=610pt, scale only axis,
  xmin=0, xmax=5, ymin=-0.91, ymax=18.91,
  xtick={0,1,2,3,4},
  ytick={0,1,...,18},
  yticklabels={Pz,Cz,Fz,P8,P7,T8,T7,F8,F7,O2,O1,P4,P3,C4,C3,F4,F3,Fp2,Fp1},
  tick align=outside, xtick pos=bottom, ytick pos=left,
  major tick length=4pt,
  tick style={black, line width=0.8pt},
  axis line style={line width=0.8pt},
  /pgf/number format/assume math mode=true,
  ticklabel style={font=\fontsize{10.5}{12}\selectfont},
  yticklabel style={inner sep=0pt, anchor=east, xshift=-3pt},
  xticklabel style={inner sep=0pt, anchor=north, yshift=-7.5pt},
  xlabel={Time (s)}, ylabel={EEG Channel},
  xlabel style={font=\fontsize{13}{15}\selectfont, at={(axis description cs:0.5,-0.0443)}, anchor=north, inner sep=0pt},
  ylabel style={font=\fontsize{13}{15}\selectfont, at={(axis description cs:-0.0366,0.5)}, anchor=south, inner sep=0pt},
  title={Time Series - All EEG Channels},
  title style={font=\fontsize{15}{17}\selectfont, at={(axis description cs:0.5,1.0066)}, anchor=south, inner sep=0pt},
  legend cell align=left,
  legend image code/.code={\draw[#1, line width=1pt] (0pt,0pt) -- (23pt,0pt);},
  legend style={at={(0.990,0.995)}, anchor=north east,
    draw={rgb,255:red,204;green,204;blue,204}, fill=white,
    fill opacity=0.8, draw opacity=1, text opacity=1,
    rounded corners=2pt, font=\fontsize{10.8}{13}\selectfont,
    inner xsep=3pt, inner ysep=2.3pt, row sep=1.5pt,
    /tikz/column sep=5pt, nodes={inner sep=2pt}},
]
\ch\nFpa\gFpa\dFpa{18}
\ch\nFpb\gFpb\dFpb{17}
\ch\dFc\gFc\dFc{16}
\ch\dFd\gFd\dFd{15}
\ch\dCc\gCc\dCc{14}
\ch\dCd\gCd\dCd{13}
\ch\dPc\gPc\dPc{12}
\ch\dPd\gPd\dPd{11}
\ch\dOa\gOa\dOa{10}
\ch\dOb\gOb\dOb{9}
\ch\nFg\gFg\dFg{8}
\ch\dFh\gFh\dFh{7}
\ch\dTg\gTg\dTg{6}
\ch\dTh\gTh\dTh{5}
\ch\dPg\gPg\dPg{4}
\ch\dPh\gPh\dPh{3}
\ch\dFz\gFz\dFz{2}
\ch\dCz\gCz\dCz{1}
\addplot[nz] table[x=t, y=y, y expr=\thisrow{y}/72]{\nPz};
\addlegendentry{Noisy EEG Segment}
\addplot[tg] table[x=t, y=y, y expr=\thisrow{y}/72]{\gPz};
\addlegendentry{Target EEG Segment}
\addplot[dn] table[x=t, y=y, y expr=\thisrow{y}/72]{\dPz};
\addlegendentry{Denoised EEG Segment}
\coordinate (sbT) at (axis cs:5.054,0.097);
\coordinate (sbB) at (axis cs:5.054,-0.81);
\end{axis}
\draw[line width=1pt, black!70] (sbT) -- (sbB) node[midway, right=5pt, inner sep=0pt, font=\fontsize{9.8}{11}\selectfont, text=black] {40 µV};
\end{tikzpicture}
\end{document}
